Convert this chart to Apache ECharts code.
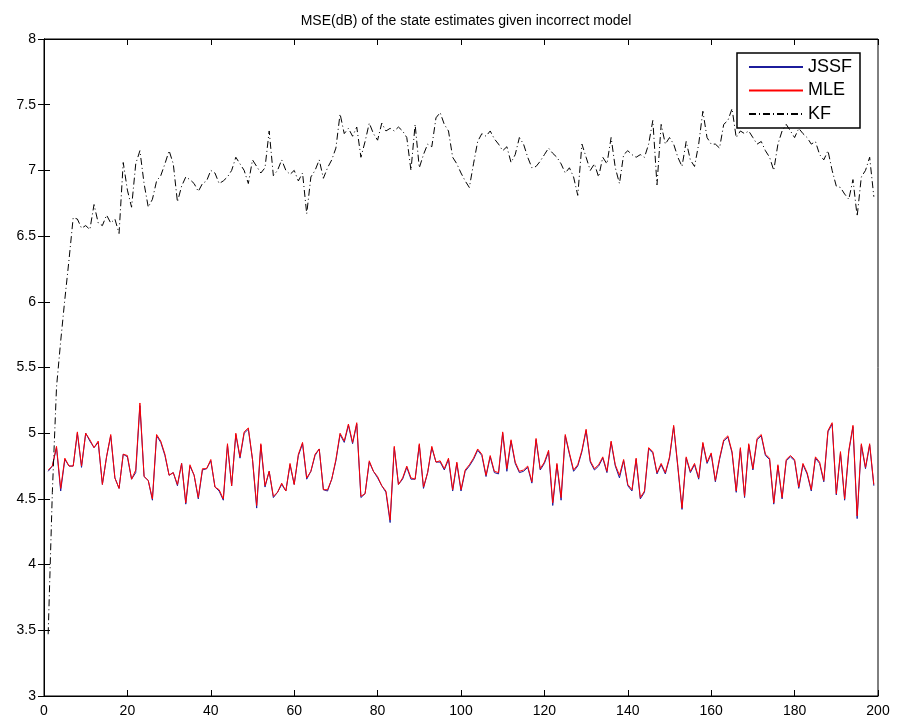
<!DOCTYPE html>
<html style="height: 100%">
<head>
    <meta charset="utf-8">
</head>
<body style="height: 100%; margin: 0; background: #ffffff;">
    <div id="container" style="width: 898px; height: 727px"></div>
    <script type="text/javascript" src="https://cdn.jsdelivr.net/npm/echarts@6/dist/echarts.min.js"></script>
    <script type="text/javascript">
        // time steps 1..199
        var mle = [4.72, 4.75, 4.90, 4.58, 4.81, 4.75, 4.75, 5.01, 4.75, 5.00,
            4.95, 4.89, 4.94, 4.61, 4.82, 4.99, 4.66, 4.58, 4.84, 4.83,
            4.65, 4.72, 5.23, 4.67, 4.64, 4.50, 4.99, 4.94, 4.84, 4.68,
            4.70, 4.61, 4.77, 4.47, 4.76, 4.68, 4.51, 4.73, 4.73, 4.80,
            4.59, 4.57, 4.50, 4.92, 4.60, 5.00, 4.82, 5.01, 5.04, 4.80,
            4.45, 4.92, 4.60, 4.71, 4.52, 4.55, 4.62, 4.56, 4.77, 4.61,
            4.84, 4.93, 4.66, 4.71, 4.84, 4.88, 4.57, 4.57, 4.65, 4.80,
            5.00, 4.94, 5.07, 4.93, 5.08, 4.52, 4.54, 4.79, 4.71, 4.67,
            4.60, 4.56, 4.34, 4.90, 4.61, 4.66, 4.75, 4.66, 4.65, 4.92,
            4.59, 4.70, 4.90, 4.78, 4.79, 4.73, 4.81, 4.57, 4.78, 4.57,
            4.72, 4.76, 4.81, 4.88, 4.84, 4.68, 4.83, 4.71, 4.70, 5.01,
            4.73, 4.95, 4.78, 4.71, 4.72, 4.75, 4.63, 4.96, 4.73, 4.78,
            4.87, 4.47, 4.77, 4.51, 4.99, 4.85, 4.72, 4.76, 4.87, 5.03,
            4.79, 4.73, 4.76, 4.82, 4.71, 4.94, 4.76, 4.68, 4.80, 4.61,
            4.57, 4.81, 4.51, 4.56, 4.89, 4.86, 4.70, 4.77, 4.70, 4.82,
            5.06, 4.75, 4.43, 4.82, 4.71, 4.77, 4.66, 4.93, 4.78, 4.85,
            4.64, 4.81, 4.95, 4.98, 4.86, 4.56, 4.89, 4.52, 4.92, 4.73,
            4.96, 4.99, 4.84, 4.81, 4.47, 4.76, 4.51, 4.80, 4.83, 4.80,
            4.59, 4.77, 4.70, 4.57, 4.82, 4.78, 4.64, 5.02, 5.08, 4.54,
            4.86, 4.50, 4.87, 5.06, 4.37, 4.92, 4.74, 4.92, 4.61];

        var jssf = [4.71, 4.75, 4.89, 4.56, 4.80, 4.75, 4.75, 5.00, 4.74, 5.00,
            4.94, 4.89, 4.93, 4.61, 4.82, 4.98, 4.66, 4.58, 4.84, 4.82,
            4.65, 4.70, 5.21, 4.67, 4.64, 4.49, 4.98, 4.93, 4.83, 4.68,
            4.70, 4.60, 4.77, 4.46, 4.75, 4.68, 4.50, 4.72, 4.73, 4.79,
            4.59, 4.56, 4.49, 4.91, 4.60, 4.99, 4.81, 5.00, 5.03, 4.80,
            4.43, 4.91, 4.59, 4.71, 4.51, 4.55, 4.61, 4.56, 4.76, 4.61,
            4.83, 4.92, 4.65, 4.71, 4.83, 4.88, 4.57, 4.56, 4.65, 4.79,
            4.99, 4.93, 5.06, 4.92, 5.07, 4.51, 4.54, 4.78, 4.71, 4.66,
            4.60, 4.55, 4.32, 4.89, 4.61, 4.65, 4.74, 4.65, 4.65, 4.91,
            4.58, 4.70, 4.89, 4.78, 4.78, 4.72, 4.80, 4.56, 4.77, 4.56,
            4.71, 4.75, 4.80, 4.87, 4.83, 4.67, 4.82, 4.70, 4.69, 5.00,
            4.71, 4.94, 4.77, 4.70, 4.71, 4.74, 4.62, 4.95, 4.72, 4.77,
            4.86, 4.45, 4.76, 4.49, 4.98, 4.84, 4.71, 4.75, 4.86, 5.02,
            4.78, 4.72, 4.75, 4.81, 4.70, 4.93, 4.75, 4.66, 4.79, 4.60,
            4.56, 4.80, 4.50, 4.55, 4.88, 4.85, 4.69, 4.76, 4.69, 4.81,
            5.05, 4.74, 4.42, 4.81, 4.70, 4.76, 4.65, 4.92, 4.77, 4.84,
            4.63, 4.80, 4.94, 4.97, 4.85, 4.55, 4.88, 4.51, 4.91, 4.72,
            4.95, 4.98, 4.83, 4.80, 4.46, 4.75, 4.50, 4.79, 4.82, 4.79,
            4.58, 4.76, 4.69, 4.56, 4.81, 4.77, 4.63, 5.01, 5.07, 4.53,
            4.85, 4.49, 4.86, 5.05, 4.35, 4.91, 4.73, 4.91, 4.60];

        var kf = [3.47, 4.55, 5.35, 5.70, 6.02, 6.32, 6.64, 6.63, 6.56, 6.58,
            6.55, 6.74, 6.60, 6.58, 6.66, 6.60, 6.63, 6.52, 7.06, 6.85,
            6.72, 7.05, 7.15, 6.90, 6.72, 6.78, 6.92, 6.96, 7.05, 7.15,
            7.05, 6.76, 6.88, 6.95, 6.93, 6.90, 6.84, 6.90, 6.92, 7.00,
            6.98, 6.90, 6.92, 6.95, 7.00, 7.10, 7.05, 7.00, 6.90, 7.08,
            7.03, 6.98, 7.02, 7.30, 6.96, 7.00, 7.08, 7.00, 6.97, 7.00,
            6.92, 6.98, 6.67, 6.95, 7.00, 7.08, 6.94, 7.02, 7.08, 7.17,
            7.43, 7.28, 7.32, 7.26, 7.33, 7.10, 7.22, 7.36, 7.28, 7.23,
            7.36, 7.30, 7.32, 7.30, 7.33, 7.30, 7.25, 7.00, 7.35, 7.02,
            7.12, 7.20, 7.18, 7.40, 7.44, 7.35, 7.30, 7.10, 7.05, 6.98,
            6.92, 6.87, 7.05, 7.22, 7.28, 7.26, 7.30, 7.24, 7.20, 7.15,
            7.18, 7.06, 7.12, 7.25, 7.20, 7.10, 7.02, 7.03, 7.07, 7.12,
            7.17, 7.13, 7.10, 7.05, 6.98, 7.02, 6.95, 6.81, 7.20, 7.10,
            7.00, 7.05, 6.95, 7.10, 7.05, 7.25, 7.02, 6.90, 7.12, 7.15,
            7.12, 7.10, 7.12, 7.10, 7.20, 7.38, 6.89, 7.35, 7.20, 7.25,
            7.20, 7.10, 7.03, 7.22, 7.08, 7.03, 7.20, 7.45, 7.25, 7.20,
            7.20, 7.17, 7.35, 7.38, 7.47, 7.25, 7.30, 7.28, 7.30, 7.25,
            7.20, 7.22, 7.15, 7.10, 7.00, 7.20, 7.30, 7.35, 7.30, 7.25,
            7.32, 7.28, 7.25, 7.20, 7.22, 7.12, 7.08, 7.15, 7.00, 6.88,
            6.87, 6.82, 6.78, 6.93, 6.65, 6.95, 7.00, 7.10, 6.80];

        var yTicks = ['3', '3.5', '4', '4.5', '5', '5.5', '6', '6.5', '7', '7.5', '8'];

        // pair each value with its time step
        function withStep(arr) {
            return arr.map(function (v, k) { return [k + 1, v]; });
        }

        var fontFam = 'Liberation Sans, Arial, sans-serif';
        var dom = document.getElementById('container');
        var myChart = echarts.init(dom, null, { renderer: 'canvas' });

        var option = {
            backgroundColor: '#ffffff',
            animation: false,
            title: {
                text: 'MSE(dB) of the state estimates given incorrect model',
                left: 461,
                textAlign: 'center',
                top: 9,
                textStyle: { fontFamily: fontFam, fontSize: 14, fontWeight: 'normal', color: '#000' }
            },
            legend: {
                orient: 'vertical',
                right: 38,
                top: 53,
                backgroundColor: '#ffffff',
                borderColor: '#000',
                borderWidth: 1.5,
                padding: [5, 8, 5, 11],
                itemWidth: 54,
                itemHeight: 14,
                itemGap: 5.5,
                itemStyle: { opacity: 0 },
                textStyle: { fontFamily: fontFam, fontSize: 18, color: '#000', padding: [0, 0, 0, 0] },
                data: ['JSSF', 'MLE', 'KF']
            },
            grid: {
                left: 44,
                right: 20,
                top: 39,
                bottom: 31,
                show: true,
                borderColor: '#000',
                borderWidth: 1,
                backgroundColor: '#fff'
            },
            xAxis: [{
                type: 'value',
                min: 0,
                max: 200,
                interval: 20,
                axisLine: { lineStyle: { color: '#000' } },
                axisTick: { inside: true, length: 6, lineStyle: { color: '#000' } },
                axisLabel: { fontFamily: fontFam, fontSize: 14, color: '#000', margin: 8 },
                splitLine: { show: false }
            }, {
                type: 'value',
                position: 'top',
                min: 0,
                max: 200,
                interval: 20,
                axisLine: { lineStyle: { color: '#000' } },
                axisTick: { inside: true, length: 6, lineStyle: { color: '#000' } },
                axisLabel: { show: false },
                splitLine: { show: false }
            }],
            yAxis: [{
                type: 'value',
                min: 3,
                max: 8,
                interval: 0.5,
                axisLine: { show: true, lineStyle: { color: '#000' } },
                axisTick: { show: true, inside: true, length: 6, lineStyle: { color: '#000' } },
                axisLabel: {
                    fontFamily: fontFam, fontSize: 14, color: '#000', margin: 8,
                    formatter: function (v) {
                        var k = Math.round((v - 3) / 0.5);
                        return yTicks[k];
                    }
                },
                splitLine: { show: false }
            }, {
                type: 'value',
                position: 'right',
                min: 3,
                max: 8,
                interval: 0.5,
                axisLine: { show: true, lineStyle: { color: '#000' } },
                axisTick: { show: true, inside: true, length: 6, lineStyle: { color: '#000' } },
                axisLabel: { show: false },
                splitLine: { show: false }
            }],
            series: [{
                name: 'JSSF',
                type: 'line',
                data: withStep(jssf),
                symbol: 'none',
                lineStyle: { color: '#1c1c9c', width: 1 },
                itemStyle: { color: '#1c1c9c' },
                z: 2
            }, {
                name: 'MLE',
                type: 'line',
                data: withStep(mle),
                symbol: 'none',
                lineStyle: { color: '#ff0000', width: 1 },
                itemStyle: { color: '#ff0000' },
                z: 3
            }, {
                name: 'KF',
                type: 'line',
                data: withStep(kf),
                symbol: 'none',
                lineStyle: { color: '#000000', width: 1, type: [7, 3, 1, 3] },
                itemStyle: { color: '#000000' },
                z: 4
            }]
        };

        myChart.setOption(option);
        window.addEventListener('resize', myChart.resize);
    </script>
</body>
</html>
